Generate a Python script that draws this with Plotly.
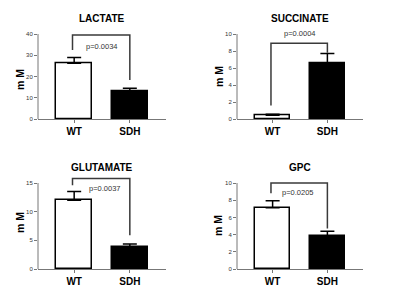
import plotly.graph_objects as go

# ---- data ----
panels = ["LACTATE", "SUCCINATE", "GLUTAMATE", "GPC"]
groups = ["WT", "SDH"]
means = {
    "LACTATE": [26.2, 13.1],
    "SUCCINATE": [0.45, 6.55],
    "GLUTAMATE": [12.0, 3.9],
    "GPC": [7.13, 3.8],
}
sems = {
    "LACTATE": [2.7, 1.4],
    "SUCCINATE": [0.1, 1.15],
    "GLUTAMATE": [1.5, 0.45],
    "GPC": [0.8, 0.6],
}
p_values = {
    "LACTATE": "p=0.0034",
    "SUCCINATE": "p=0.0004",
    "GLUTAMATE": "p=0.0037",
    "GPC": "p=0.0205",
}
y_max = {"LACTATE": 40, "SUCCINATE": 10, "GLUTAMATE": 15, "GPC": 10}
y_dtick = {"LACTATE": 10, "SUCCINATE": 2, "GLUTAMATE": 5, "GPC": 2}
# bracket: [top, left leg bottom, right leg bottom]
brackets = {
    "LACTATE": [39.5, 32.5, 18.4],
    "SUCCINATE": [8.9, 1.6, 7.8],
    "GLUTAMATE": [15.8, 14.6, 5.9],
    "GPC": [10.0, 8.8, 4.7],
}
# p text anchor (x in category units, y in data units)
p_pos = {
    "LACTATE": [0.5, 33.9],
    "SUCCINATE": [0.5, 10.1],
    "GLUTAMATE": [0.55, 14.1],
    "GPC": [0.46, 8.85],
}

# ---- layout geometry (pixels) ----
W, H = 400, 295
col_px = [(38, 166), (237, 363)]
row_px = [(34, 119), (183, 269)]  # (top tick pixel, zero pixel)
EXT = 1.08
title_y_px = [18, 167]
mm_pos_px = [(20, 80), (219, 77), (20, 223), (218, 226)]

FONT = "Liberation Sans, Arial, sans-serif"
AXIS_COL = "#777777"
BRK_COL = "#3a3a3a"

fig = go.Figure()
annotations = []
shapes = []

for i, name in enumerate(panels):
    r, c = divmod(i, 2)
    sfx = "" if i == 0 else str(i + 1)
    xa, ya = "x" + sfx, "y" + sfx
    x0p, x1p = col_px[c]
    topp, zerop = row_px[r]
    hpx = (zerop - topp) * EXT
    xdom = [x0p / W, x1p / W]
    ydom = [(H - zerop) / H, (H - (zerop - hpx)) / H]
    T = y_max[name]

    fig.add_trace(go.Bar(
        x=[0, 1], y=means[name], width=0.65,
        marker=dict(color=["white", "black"], line=dict(color="black", width=1.5)),
        error_y=dict(type="data", symmetric=False, array=sems[name],
                     arrayminus=[0, 0], color="black", thickness=1.5, width=7),
        xaxis=xa, yaxis=ya, showlegend=False, hoverinfo="skip",
    ))

    fig.layout[("xaxis" + sfx)] = dict(
        domain=xdom, anchor=ya, range=[-0.65, 1.65], automargin=False,
        tickvals=[0, 1], ticktext=groups, showline=True, linecolor=AXIS_COL,
        linewidth=1, ticks="outside", ticklen=3, tickcolor=AXIS_COL,
        tickfont=dict(family=FONT, size=10, color="black", weight="bold"),
        showgrid=False, zeroline=False, fixedrange=True,
    )
    fig.layout[("yaxis" + sfx)] = dict(
        domain=ydom, anchor=xa, range=[0, T * EXT], automargin=False,
        tickvals=list(range(0, T + 1, y_dtick[name])),
        showline=False, ticks="outside", ticklen=3, tickcolor=AXIS_COL,
        tickfont=dict(family=FONT, size=6, color="#333333"),
        showgrid=False, zeroline=False, fixedrange=True,
    )
    # y axis line ending at the top tick
    shapes.append(dict(type="line", xref=xa + " domain", yref=ya,
                       x0=0, x1=0, y0=0, y1=T,
                       line=dict(color=AXIS_COL, width=1)))
    # significance bracket
    top, lb, rb = brackets[name]
    shapes.append(dict(type="path", xref=xa, yref=ya,
                       path=f"M -0.03,{lb} L -0.03,{top} L 1,{top} L 1,{rb}",
                       line=dict(color=BRK_COL, width=1.5)))
    annotations.append(dict(x=p_pos[name][0], y=p_pos[name][1], xref=xa, yref=ya,
                            text=p_values[name], showarrow=False,
                            xanchor="center", yanchor="middle",
                            font=dict(family=FONT, size=7.5, color="#333333")))
    # panel title
    annotations.append(dict(x=(x0p + x1p) / 2 / W, y=(H - title_y_px[r]) / H,
                            xref="paper", yref="paper", text=name, showarrow=False,
                            xanchor="center", yanchor="middle",
                            font=dict(family=FONT, size=10, color="black", weight="bold")))
    # y label
    mx, my = mm_pos_px[i]
    annotations.append(dict(x=mx / W, y=(H - my) / H, xref="paper", yref="paper",
                            text="m M", textangle=-90, showarrow=False,
                            xanchor="center", yanchor="middle",
                            font=dict(family=FONT, size=10.5, color="black", weight="bold")))

fig.update_layout(
    template="none",
    width=W, height=H, margin=dict(l=0, r=0, t=0, b=0, pad=0),
    paper_bgcolor="white", plot_bgcolor="white",
    annotations=annotations, shapes=shapes, bargap=0,
)

fig.write_html("out.html", config={"displayModeBar": False},
               post_script="document.body.style.margin='0';document.body.style.padding='0';")
